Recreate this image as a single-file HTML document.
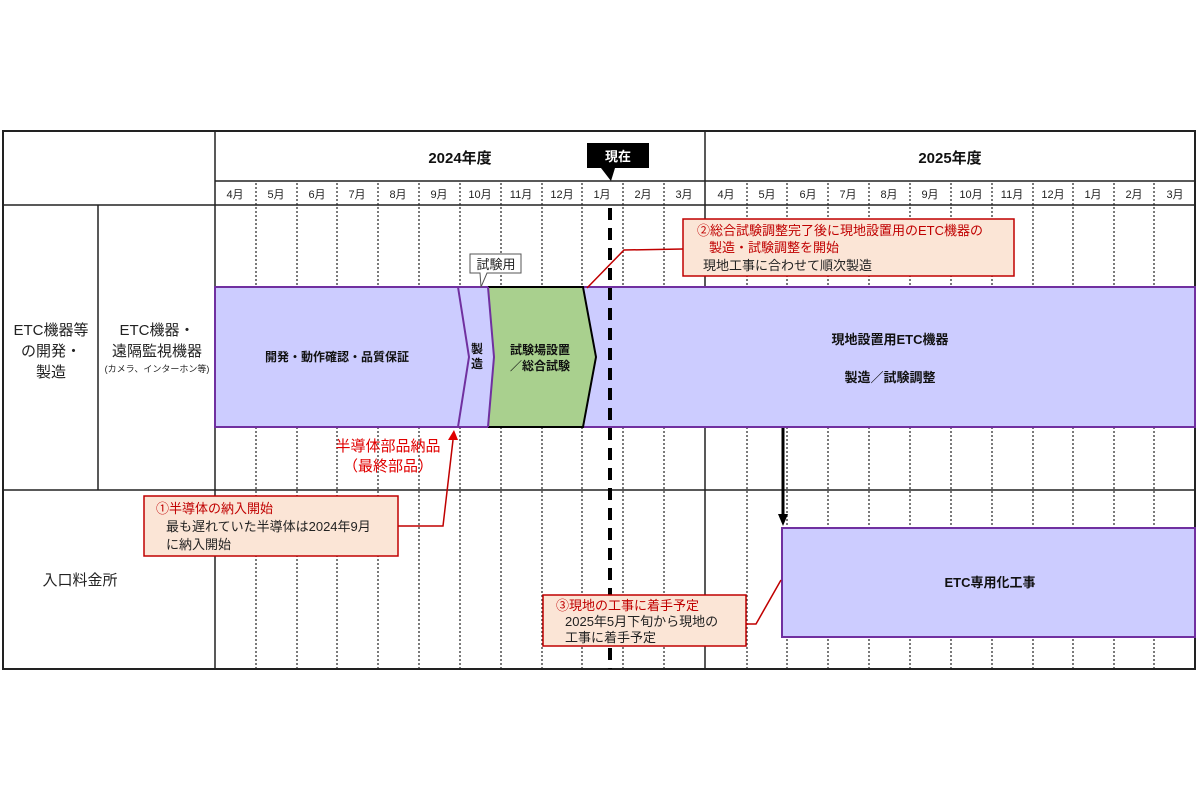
<!DOCTYPE html>
<html><head><meta charset="utf-8"><style>
html,body{margin:0;padding:0;background:#fff;}
svg{display:block;}
text{font-family:"Liberation Sans","Noto Sans CJK JP",sans-serif;}
</style></head><body>
<svg width="1200" height="800" viewBox="0 0 1200 800" xmlns="http://www.w3.org/2000/svg">
<rect width="1200" height="800" fill="#fff"/>
<!-- dotted month lines -->
<g stroke="#333" stroke-width="1.3" stroke-dasharray="2,2">
<line x1="256" y1="183" x2="256" y2="669"/><line x1="297" y1="183" x2="297" y2="669"/>
<line x1="337" y1="183" x2="337" y2="669"/><line x1="378" y1="183" x2="378" y2="669"/>
<line x1="419" y1="183" x2="419" y2="669"/><line x1="460" y1="183" x2="460" y2="669"/>
<line x1="501" y1="183" x2="501" y2="669"/><line x1="542" y1="183" x2="542" y2="669"/>
<line x1="582" y1="183" x2="582" y2="669"/><line x1="623" y1="183" x2="623" y2="669"/>
<line x1="664" y1="183" x2="664" y2="669"/>
<line x1="747" y1="183" x2="747" y2="669"/><line x1="787" y1="183" x2="787" y2="669"/>
<line x1="828" y1="183" x2="828" y2="669"/><line x1="869" y1="183" x2="869" y2="669"/>
<line x1="910" y1="183" x2="910" y2="669"/><line x1="951" y1="183" x2="951" y2="669"/>
<line x1="992" y1="183" x2="992" y2="669"/><line x1="1033" y1="183" x2="1033" y2="669"/>
<line x1="1073" y1="183" x2="1073" y2="669"/><line x1="1114" y1="183" x2="1114" y2="669"/>
<line x1="1154" y1="183" x2="1154" y2="669"/>
</g>
<!-- grid solid -->
<g stroke="#222" stroke-width="1.5" fill="none">
<rect x="3" y="131" width="1192" height="538" stroke-width="2"/>
<line x1="215" y1="181" x2="1195" y2="181"/>
<line x1="3" y1="205" x2="1195" y2="205"/>
<line x1="3" y1="490" x2="1195" y2="490"/>
<line x1="215" y1="131" x2="215" y2="669"/>
<line x1="705" y1="131" x2="705" y2="669"/>
<line x1="98" y1="205" x2="98" y2="490"/>
</g>
<!-- headers -->
<text x="460" y="163" font-size="15" font-weight="bold" text-anchor="middle" fill="#111">2024年度</text>
<text x="950" y="163" font-size="15" font-weight="bold" text-anchor="middle" fill="#111">2025年度</text>
<g font-size="11" text-anchor="middle" fill="#222">
<text x="235" y="198">4月</text><text x="276" y="198">5月</text><text x="317" y="198">6月</text>
<text x="357" y="198">7月</text><text x="398" y="198">8月</text><text x="439" y="198">9月</text>
<text x="480" y="198">10月</text><text x="521" y="198">11月</text><text x="562" y="198">12月</text>
<text x="602" y="198">1月</text><text x="643" y="198">2月</text><text x="684" y="198">3月</text>
<text x="726" y="198">4月</text><text x="767" y="198">5月</text><text x="808" y="198">6月</text>
<text x="848" y="198">7月</text><text x="889" y="198">8月</text><text x="930" y="198">9月</text>
<text x="971" y="198">10月</text><text x="1012" y="198">11月</text><text x="1053" y="198">12月</text>
<text x="1093" y="198">1月</text><text x="1134" y="198">2月</text><text x="1175" y="198">3月</text>
</g>
<!-- left labels -->
<g font-size="15" text-anchor="middle" fill="#222">
<text x="51" y="335">ETC機器等</text><text x="51" y="356">の開発・</text><text x="51" y="377">製造</text>
<text x="157" y="335">ETC機器・</text><text x="157" y="356">遠隔監視機器</text>
<text x="80" y="585">入口料金所</text>
</g>
<text x="157" y="372" font-size="9" text-anchor="middle" fill="#222">(カメラ、インターホン等)</text>
<!-- main bar -->
<rect x="215" y="287" width="980" height="140" fill="#ccccff" stroke="#7030a0" stroke-width="2"/>
<polygon points="488,287 583,287 596,357 583,427 488,427 494,357" fill="#a9d08e" stroke="none"/>
<polyline points="488,287 583,287 596,357 583,427 488,427" fill="none" stroke="#000" stroke-width="2"/>
<polyline points="458,287 469,357 458,427" fill="none" stroke="#7030a0" stroke-width="2"/>
<polyline points="488,287 494,357 488,427" fill="none" stroke="#7030a0" stroke-width="2"/>
<text x="337" y="361" font-size="12" font-weight="bold" text-anchor="middle" fill="#111">開発・動作確認・品質保証</text>
<text x="477" y="353" font-size="12" font-weight="bold" text-anchor="middle" fill="#111">製</text>
<text x="477" y="368" font-size="12" font-weight="bold" text-anchor="middle" fill="#111">造</text>
<text x="540" y="354" font-size="12" font-weight="bold" text-anchor="middle" fill="#111">試験場設置</text>
<text x="540" y="370" font-size="12" font-weight="bold" text-anchor="middle" fill="#111">／総合試験</text>
<text x="890" y="344" font-size="13" font-weight="bold" text-anchor="middle" fill="#111">現地設置用ETC機器</text>
<text x="890" y="382" font-size="13" font-weight="bold" text-anchor="middle" fill="#111">製造／試験調整</text>
<!-- 試験用 label -->
<polygon points="470,254 521,254 521,273 487,273 481,287 480,273 470,273" fill="#fff" stroke="#555" stroke-width="1"/>
<text x="496" y="269" font-size="13" text-anchor="middle" fill="#222">試験用</text>
<!-- 現在 -->
<polygon points="587,143 649,143 649,168 615,168 611,181 601,168 587,168" fill="#000"/>
<text x="618" y="161" font-size="13" font-weight="bold" text-anchor="middle" fill="#fff">現在</text>
<!-- dashed now line -->
<line x1="610" y1="208" x2="610" y2="669" stroke="#000" stroke-width="4" stroke-dasharray="12,8"/>
<!-- ETC専用化工事 -->
<rect x="782" y="528" width="413" height="109" fill="#ccccff" stroke="#7030a0" stroke-width="2"/>
<text x="990" y="587" font-size="13" font-weight="bold" text-anchor="middle" fill="#111">ETC専用化工事</text>
<!-- black arrow -->
<line x1="783" y1="428" x2="783" y2="516" stroke="#000" stroke-width="3"/>
<polygon points="778,514 788,514 783,526" fill="#000"/>
<!-- red text -->
<text x="388" y="451" font-size="15" text-anchor="middle" fill="#e00000">半導体部品納品</text>
<text x="388" y="471" font-size="15" text-anchor="middle" fill="#e00000">（最終部品）</text>
<!-- connectors -->
<polyline points="398,526 443,526 453,440" fill="none" stroke="#c00000" stroke-width="1.5"/>
<polygon points="448,440 458,440 454,430" fill="#e00000"/>
<polyline points="683,249 624,250 587,288" fill="none" stroke="#c00000" stroke-width="1.5"/>
<polyline points="746,624 756,624 781,580" fill="none" stroke="#c00000" stroke-width="1.5"/>
<!-- callouts -->
<rect x="144" y="496" width="254" height="60" fill="#fbe5d6" stroke="#c00000" stroke-width="1.5"/>
<text x="156" y="513" font-size="13" fill="#c00000">①半導体の納入開始</text>
<text x="166" y="531" font-size="13" fill="#222">最も遅れていた半導体は2024年9月</text>
<text x="166" y="549" font-size="13" fill="#222">に納入開始</text>
<rect x="683" y="219" width="331" height="57" fill="#fbe5d6" stroke="#c00000" stroke-width="1.5"/>
<text x="697" y="235" font-size="13" fill="#c00000">②総合試験調整完了後に現地設置用のETC機器の</text>
<text x="709" y="252" font-size="13" fill="#c00000">製造・試験調整を開始</text>
<text x="703" y="270" font-size="13" fill="#222">現地工事に合わせて順次製造</text>
<rect x="543" y="595" width="203" height="51" fill="#fbe5d6" stroke="#c00000" stroke-width="1.5"/>
<text x="556" y="610" font-size="13" fill="#c00000">③現地の工事に着手予定</text>
<text x="565" y="626" font-size="13" fill="#222">2025年5月下旬から現地の</text>
<text x="565" y="642" font-size="13" fill="#222">工事に着手予定</text>
</svg>
</body></html>
